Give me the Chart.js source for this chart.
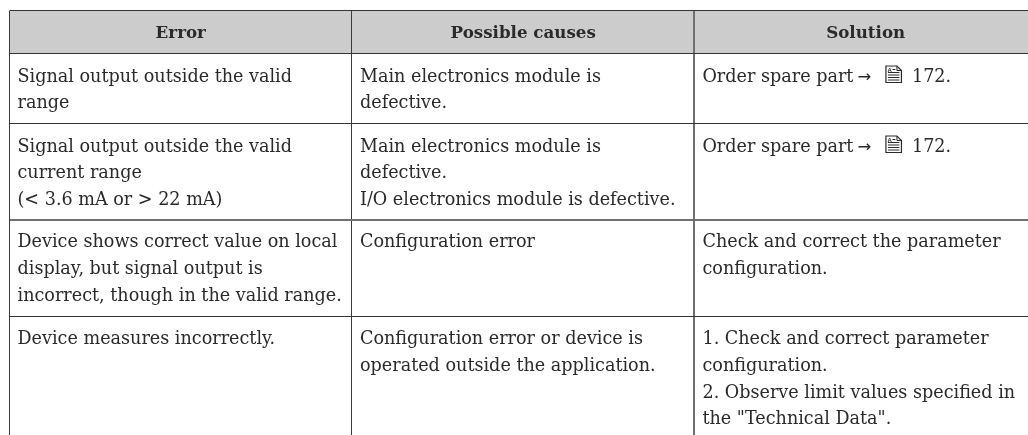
<!DOCTYPE html>
<html><head><meta charset="utf-8">
<style>html,body{margin:0;padding:0;background:#fff;overflow:hidden}canvas{display:block}</style>
<script src="https://cdn.jsdelivr.net/npm/chart.js@4"></script>
</head><body><canvas id="c" width="1028" height="435"></canvas>
<script>
const headers = ["Error", "Possible causes", "Solution"];
const errors = [
  ["Signal output outside the valid", "range"],
  ["Signal output outside the valid", "current range", "(< 3.6 mA or > 22 mA)"],
  ["Device shows correct value on local", "display, but signal output is", "incorrect, though in the valid range."],
  ["Device measures incorrectly."]
];
const causes = [
  ["Main electronics module is", "defective."],
  ["Main electronics module is", "defective.", "I/O electronics module is defective."],
  ["Configuration error"],
  ["Configuration error or device is", "operated outside the application."]
];
const solutions = [
  ["Order spare part"],
  ["Order spare part"],
  ["Check and correct the parameter", "configuration."],
  ["1. Check and correct parameter", "configuration.", "2. Observe limit values specified in", "the \"Technical Data\"."]
];
const pageRef = ["172.", "172.", "", ""];
const columnEdges = [0, 1, 2];
const rowEdges = [0, 42.5, 112.5, 209, 306];
const xMax = 2.974, yMax = 424.5;

const FONT = '"DejaVu Serif"';
const INK = '#2a2a2a';
const rowInset = [28.5, 28.5, 27.8, 27.8];
const tablePlugin = {
  id: 'tableText',
  afterDraw(chart) {
    const {ctx, scales: {x, y}} = chart;
    ctx.save();
    ctx.textBaseline = 'alphabetic';
    ctx.fillStyle = INK;
    ctx.textAlign = 'center';
    ctx.font = 'bold 16.7px ' + FONT;
    headers.forEach((h, i) => {
      ctx.fillText(h, x.getPixelForValue(i + 0.5), y.getPixelForValue(27.5));
    });
    ctx.textAlign = 'left';
    ctx.font = '17.6px ' + FONT;
    [errors, causes, solutions].forEach((col, c) => {
      const px = x.getPixelForValue(c) + 8;
      col.forEach((lines, r) => {
        lines.forEach((t, l) => {
          ctx.fillText(t, px, y.getPixelForValue(rowEdges[r + 1] + rowInset[r] + l * 26.7));
        });
      });
    });
    pageRef.forEach((t, r) => {
      if (!t) return;
      const by = y.getPixelForValue(rowEdges[r + 1] + rowInset[r]);
      const x2 = x.getPixelForValue(2);
      ctx.font = '17.6px ' + FONT;
      ctx.fillStyle = INK;
      ctx.fillText(t, x2 + 217.5, by);
      ctx.font = '16.5px "DejaVu Sans"';
      ctx.fillText('→', x2 + 163, by);
      // document symbol
      const ix = x2 + 191.5, bot = by + 1, top = by - 15.5;
      ctx.strokeStyle = INK; ctx.lineWidth = 1.2;
      ctx.beginPath();
      ctx.moveTo(ix, top); ctx.lineTo(ix + 11, top); ctx.lineTo(ix + 15.5, top + 4.5);
      ctx.lineTo(ix + 15.5, bot); ctx.lineTo(ix, bot); ctx.closePath();
      ctx.stroke();
      ctx.beginPath();
      ctx.moveTo(ix + 11, top); ctx.lineTo(ix + 11, top + 4.5); ctx.lineTo(ix + 15.5, top + 4.5);
      for (const d of [2.5, 5, 7.5, 10]) { ctx.moveTo(ix + 2, bot - d); ctx.lineTo(ix + 13.5, bot - d); }
      ctx.lineWidth = 1;
      ctx.stroke();
      ctx.font = 'bold 6px "Liberation Sans"';
      ctx.fillText('A', ix + 1.5, top + 5.5);
      ctx.fillRect(ix + 6.5, top + 3, 3, 1);
    });
    ctx.restore();
  }
};

new Chart(document.getElementById('c'), {
  type: 'scatter',
  data: { datasets: [{
    data: [{x: 0, y: 0}, {x: xMax, y: 0}],
    showLine: true, borderWidth: 0, pointRadius: 0,
    backgroundColor: '#cccccc', fill: {value: rowEdges[1]}
  }]},
  options: {
    responsive: false, animation: false, events: [],
    layout: {padding: {left: 9.5, top: 10.5, right: 0, bottom: 0}},
    plugins: {legend: {display: false}, tooltip: {enabled: false}, title: {display: false}},
    scales: {
      x: {
        type: 'linear', min: 0, max: xMax,
        afterBuildTicks: s => { s.ticks = columnEdges.map(v => ({value: v})); },
        ticks: {display: false},
        border: {display: false},
        grid: {z: 1, drawTicks: false,
               lineWidth: c => c.tick && c.tick.value === 2 ? 2 : 1,
               color: c => c.tick && c.tick.value === 2 ? '#707070' : '#3a3a3a'}
      },
      y: {
        type: 'linear', min: 0, max: yMax, reverse: true,
        afterBuildTicks: s => { s.ticks = rowEdges.map(v => ({value: v})); },
        ticks: {display: false},
        border: {display: false},
        grid: {z: 1, drawTicks: false,
               lineWidth: c => c.tick && c.tick.value === 209 ? 2 : 1,
               color: c => c.tick && c.tick.value === 209 ? '#707070' : '#333333'}
      }
    }
  },
  plugins: [tablePlugin]
});
</script></body></html>
